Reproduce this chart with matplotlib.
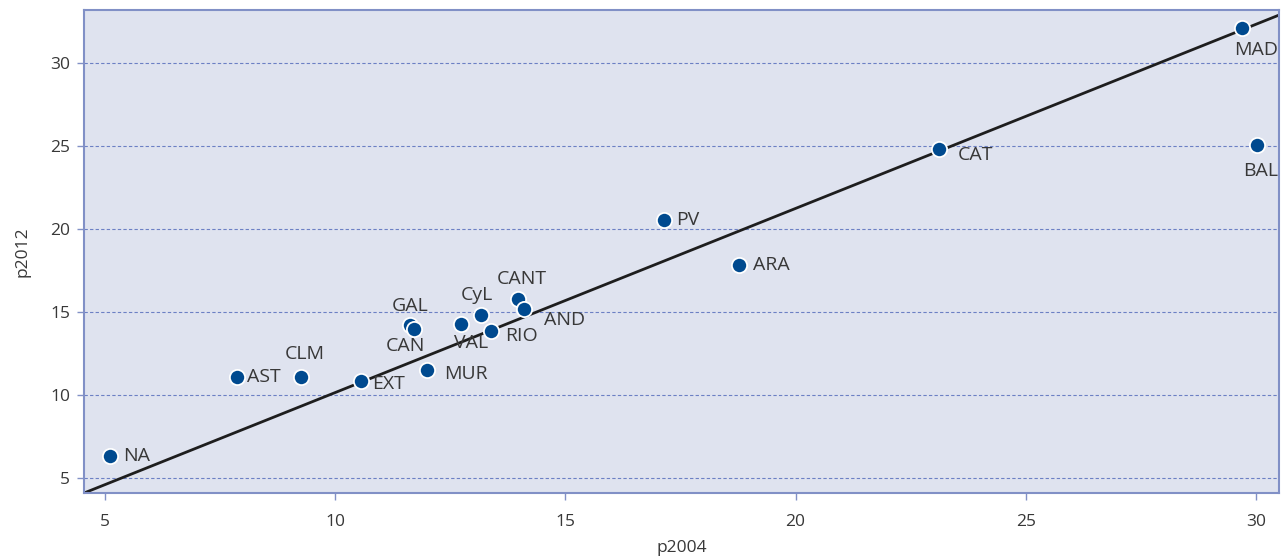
import matplotlib
matplotlib.use('Agg')
import matplotlib.pyplot as plt
import numpy as np

# region codes and values
regions = ['NA', 'AST', 'CLM', 'EXT', 'MUR', 'GAL', 'CAN', 'VAL', 'CyL', 'RIO',
           'CANT', 'AND', 'PV', 'ARA', 'CAT', 'MAD', 'BAL']
p2004 = [5.11, 7.87, 9.26, 10.57, 12.0, 11.63, 11.72, 12.74, 13.17, 13.39,
         13.96, 14.09, 17.15, 18.76, 23.11, 29.7, 30.02]
p2012 = [6.33, 11.08, 11.08, 10.84, 11.5, 14.2, 13.98, 14.28, 14.82, 13.86,
         15.78, 15.18, 20.54, 17.83, 24.82, 32.1, 25.06]

# fitted line
slope, intercept = 1.109, -0.94

# label offsets in pixels (dx, dy up), alignment
LBL = {
    'NA': (13, 0, 'left'), 'AST': (10, 0, 'left'), 'CLM': (4, 23, 'center'),
    'EXT': (11, -3, 'left'), 'MUR': (17, -4, 'left'), 'GAL': (0, 19, 'center'),
    'CAN': (-9, -17, 'center'), 'VAL': (10, -19, 'center'), 'CyL': (-4, 20, 'center'),
    'RIO': (14, -5, 'left'), 'CANT': (4, 20, 'center'), 'AND': (20, -11, 'left'),
    'PV': (12, 0, 'left'), 'ARA': (14, 0, 'left'), 'CAT': (19, -6, 'left'),
    'MAD': (14, -22, 'center'), 'BAL': (4, -26, 'center'),
}

plt.rcParams['font.family'] = ['Open Sans', 'DejaVu Sans']
txt = '#383838'
edge = '#8190c6'

fig = plt.figure(figsize=(12.87, 5.59), dpi=100)
ax = fig.add_axes([84/1287, 66/559, 1195/1287, 483/559])
ax.set_facecolor('#dfe3ef')

ax.set_xlim(4.543, 30.5)
ax.set_ylim(4.1, 33.19)

ax.set_xticks([5, 10, 15, 20, 25, 30])
ax.set_yticks([5, 10, 15, 20, 25, 30])
ax.grid(axis='y', color='#6c80c4', linestyle=(0, (3, 2)), linewidth=0.8)
ax.set_axisbelow(True)

xs = np.array(ax.get_xlim())
ax.plot(xs, slope*xs + intercept, color='#1e1e1e', linewidth=2, zorder=2)

ax.scatter(p2004, p2012, s=120, color='#004a8f', edgecolors='white', linewidths=1.3, zorder=3)

for r, x, y in zip(regions, p2004, p2012):
    dx, dy, ha = LBL[r]
    ax.annotate(r, (x, y), xytext=(dx*0.72, dy*0.72), textcoords='offset points',
                ha=ha, va='center', fontsize=14, color=txt, zorder=4)

for s in ax.spines.values():
    s.set_color(edge)
    s.set_linewidth(1.5)
ax.tick_params(colors=edge, labelcolor=txt, labelsize=12.5, length=5, width=1)
ax.tick_params(axis='x', pad=10)
ax.tick_params(axis='y', pad=5)

ax.set_xlabel('p2004', fontsize=12.5, color=txt, labelpad=7)
ax.set_ylabel('p2012', fontsize=12.5, color=txt, labelpad=14)

fig.savefig('out.png', dpi=100)
